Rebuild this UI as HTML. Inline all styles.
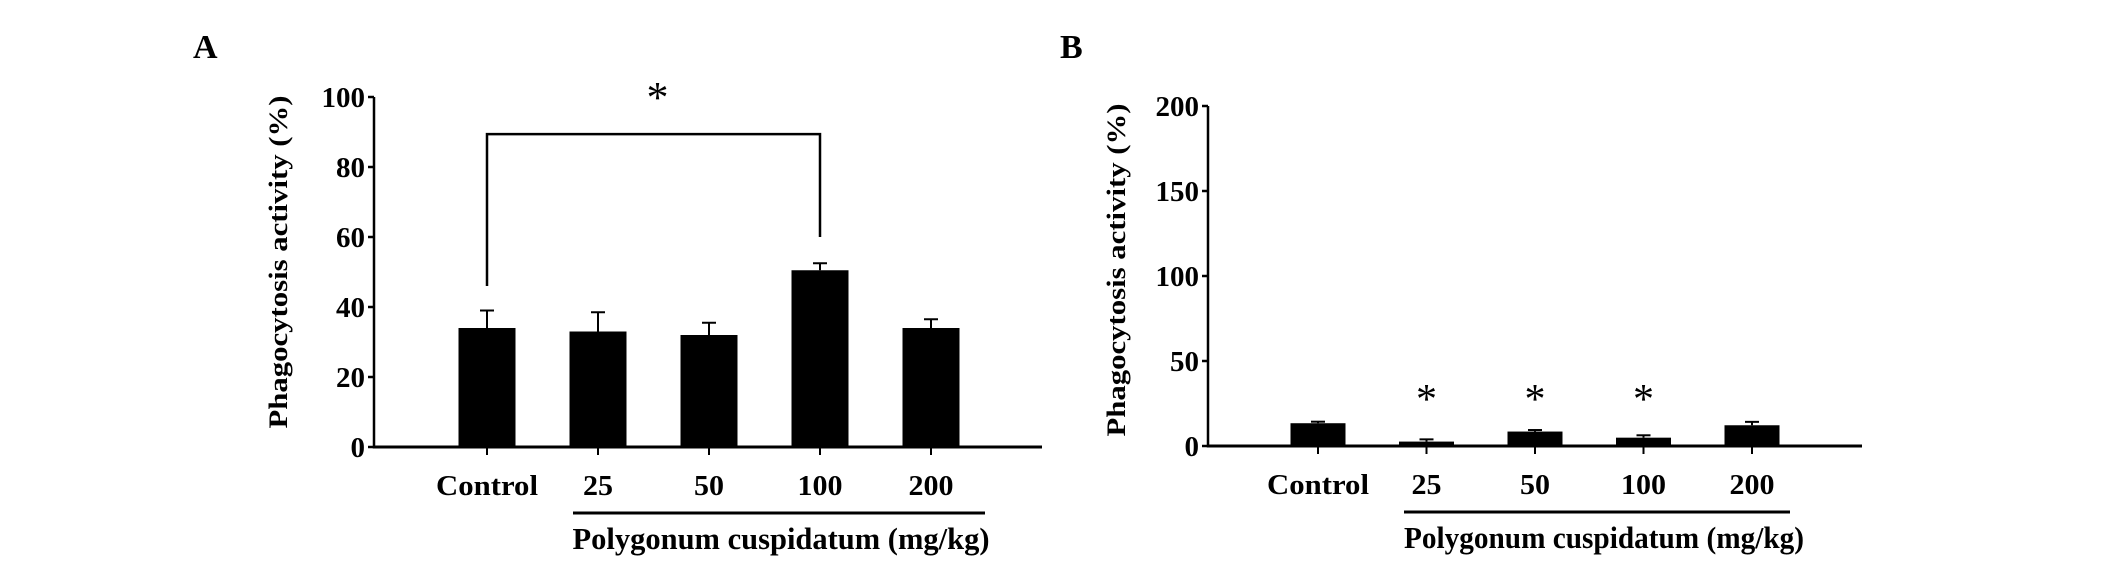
<!DOCTYPE html>
<html><head><meta charset="utf-8"><style>
html,body{margin:0;padding:0;background:#fff;}
svg{display:block;font-family:"Liberation Serif",serif;font-weight:bold;}
</style></head><body>
<svg id="chart" width="2126" height="565" viewBox="0 0 2126 565" xmlns="http://www.w3.org/2000/svg"></svg>
<script>
const categories = ["Control","25","50","100","200"];
const valuesA = [34, 33, 32, 50.5, 34];
const errorsA = [5, 5.5, 3.5, 2, 2.5];
const valuesB = [13.4, 2.6, 8.5, 4.9, 12.2];
const errorsB = [0.9, 1.3, 0.9, 1.4, 2];
const ticksA = [0,20,40,60,80,100];
const ticksB = [0,50,100,150,200];
const sigB = [false,true,true,true,false];

const NS="http://www.w3.org/2000/svg";
const svg=document.getElementById('chart');
function el(tag,attrs,parent){const e=document.createElementNS(NS,tag);for(const k in attrs)e.setAttribute(k,attrs[k]);(parent||svg).appendChild(e);return e;}
function txt(s,attrs,parent){const t=el('text',attrs,parent);t.textContent=s;return t;}

function panel(cfg){
  const g=el('g',{});
  
  
  const y=v=>cfg.y0-(v/cfg.max)*(cfg.y0-cfg.yTop);
  const letter=txt(cfg.letter,{x:cfg.lx,y:cfg.ly,'font-size':34},g);
  
  
  const ya=el('line',{x1:cfg.ax,y1:y(cfg.max),x2:cfg.ax,y2:cfg.y0+1.5,stroke:'#000','stroke-width':2.5},g);
  
  
  const xa=el('line',{x1:cfg.ax,y1:cfg.y0,x2:cfg.xEnd,y2:cfg.y0,stroke:'#000','stroke-width':3},g);
  
  
  cfg.ticks.forEach(t=>{
    el('line',{x1:cfg.ax-6,y1:y(t),x2:cfg.ax,y2:y(t),stroke:'#000','stroke-width':2.5},g);
    const tl=txt(String(t),{x:cfg.ax-9,y:y(t)+10,'font-size':29,'text-anchor':'end',textLength:String(t).length*14.5,lengthAdjust:'spacingAndGlyphs'},g);
    
    
  });
  const yt=txt('Phagocytosis activity (%)',{x:0,y:0,'font-size':26,'text-anchor':'middle',textLength:333,lengthAdjust:'spacingAndGlyphs',transform:`translate(${cfg.ytx},${cfg.yty}) rotate(-90)`},g);
  
  
  categories.forEach((c,i)=>{
    const cx=cfg.x0+i*cfg.step;
    const v=cfg.values[i], e=cfg.errors[i];
    el('line',{x1:cx,y1:y(v+e),x2:cx,y2:y(v),stroke:'#000','stroke-width':2},g);
    el('line',{x1:cx-7,y1:y(v+e),x2:cx+7,y2:y(v+e),stroke:'#000','stroke-width':2},g);
    const b=el('rect',{x:cx-cfg.bw/2,y:y(v),width:cfg.bw,height:cfg.y0-y(v),fill:'#000'},g);
    
    
    el('line',{x1:cx,y1:cfg.y0,x2:cx,y2:cfg.y0+8,stroke:'#000','stroke-width':2},g);
    const xl=txt(c,{x:cx,y:cfg.y0+48,'font-size':29,'text-anchor':'middle',textLength:c==='Control'?102:c.length*15,lengthAdjust:'spacingAndGlyphs'},g);
    
    
    if(cfg.sig && cfg.sig[i]){
      const s=txt('*',{x:cx,y:cfg.starY,'font-size':42,'font-weight':'normal','text-anchor':'middle'},g);
      
      
    }
  });
  const ul=el('line',{x1:cfg.ulx1,y1:cfg.y0+66,x2:cfg.ulx2,y2:cfg.y0+66,stroke:'#000','stroke-width':3},g);
  
  
  const xt=txt('Polygonum cuspidatum (mg/kg)',{x:cfg.tx,y:cfg.y0+102,'font-size':31,'text-anchor':'middle',textLength:cfg.tw,lengthAdjust:'spacingAndGlyphs'},g);
  
  
  return {g,y};
}

const A=panel({name:'panel-a',letter:'A',lx:193,ly:58,ax:374,y0:447,yTop:97,max:100,xEnd:1042,ticks:ticksA,
  x0:487,step:111,bw:57,values:valuesA,errors:errorsA,ytx:287,yty:262,ulx1:573,ulx2:985,tx:781,tw:417});
const bx1=487, bx2=487+3*111, by=A.y(89.4);
const br=el('path',{d:`M${bx1},${A.y(46)} L${bx1},${by} L${bx2},${by} L${bx2},${A.y(60)}`,fill:'none',stroke:'#000','stroke-width':2.5},A.g);


const sa=txt('*',{x:(bx1+bx2)/2+4,y:by-22,'font-size':44,'font-weight':'normal','text-anchor':'middle'},A.g);



panel({name:'panel-b',letter:'B',lx:1060,ly:58,ax:1208,y0:446,yTop:106,max:200,xEnd:1862,ticks:ticksB,
  x0:1318,step:108.5,bw:55,values:valuesB,errors:errorsB,ytx:1125,yty:270,sig:sigB,starY:413,ulx1:1404,ulx2:1790,tx:1604,tw:400});
</script>
</body></html>
